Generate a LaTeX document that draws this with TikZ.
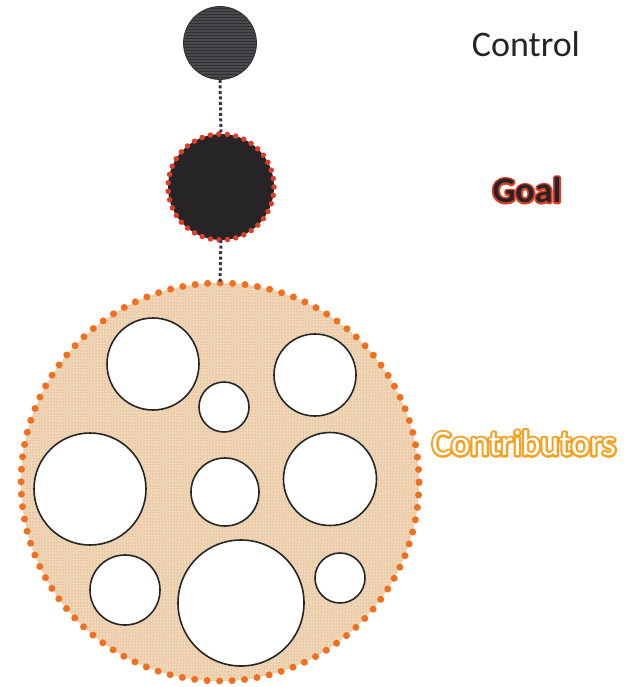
\documentclass[tikz,border=0pt]{standalone}
\usepackage{fontspec}
\setmainfont{Carlito}
\usetikzlibrary{patterns}
\definecolor{ctrlgray}{RGB}{74,74,78}
\definecolor{ctrlline}{RGB}{48,48,50}
\definecolor{goalfill}{RGB}{38,36,38}
\definecolor{goalred}{RGB}{222,62,40}
\definecolor{contribfill}{RGB}{240,214,178}
\definecolor{contribdot}{RGB}{195,145,150}
\definecolor{contriborange}{RGB}{240,112,34}
\definecolor{labelorange}{RGB}{246,160,30}
\definecolor{linkcol}{RGB}{50,55,75}
\newcommand{\strokeonly}[2]{\special{pdf:literal direct 1 Tr #1 w 1 j}#2\special{pdf:literal direct 0 Tr}}
\tikzset{
  hole/.style={circle, draw=black!85, line width=1.6pt, fill=white, inner sep=0pt},
  link/.style={draw=linkcol, line width=3pt, dash pattern=on 3pt off 2.5pt},
  bigfont/.style={font=\fontsize{36}{40}\selectfont},
  boldfont/.style={font=\fontsize{36}{40}\selectfont\bfseries},
}
\begin{document}
\begin{tikzpicture}[x=1pt,y=-1pt]
\useasboundingbox (0,0) rectangle (639,687);

% Control
\node[circle, minimum size=73pt, inner sep=0pt, fill=ctrlgray, draw=ctrlline, line width=0.8pt] (ctrl) at (220,43) {};
\fill[pattern=horizontal lines, pattern color=ctrlline] (ctrl.center) circle (36pt);

% Goal
\node[circle, minimum size=106pt, inner sep=0pt, fill=goalfill] (goal) at (221,187) {};
\draw[goalred, line width=5.5pt, line cap=round, dash pattern=on 0pt off 8.54pt] (goal.center) circle (53pt);

% Contributors (big circle)
\node[circle, minimum size=398pt, inner sep=0pt, fill=contribfill] (contrib) at (220,482) {};
\fill[pattern=dots, pattern color=contribdot] (contrib.center) circle (199pt);
\draw[contriborange, line width=7pt, line cap=round, dash pattern=on 0pt off 12.5pt] (contrib.center) circle (199pt);

% Links
\draw[link] (ctrl.south) -- (goal.north);
\draw[link] (goal.south) -- (contrib.north);

% inner circles
\node[hole, minimum size=92pt] (h1) at (153,364) {};
\node[hole, minimum size=50pt] (h2) at (224,407) {};
\node[hole, minimum size=82pt] (h3) at (315,375) {};
\node[hole, minimum size=112pt] (h4) at (90,489) {};
\node[hole, minimum size=68pt] (h5) at (225,492) {};
\node[hole, minimum size=93pt] (h6) at (330,479) {};
\node[hole, minimum size=70pt] (h7) at (125,590) {};
\node[hole, minimum size=126pt] (h8) at (241,603) {};
\node[hole, minimum size=50pt] (h9) at (340,578) {};

% Labels
\node[bigfont, text=black!85] (ctrllabel) at (526,44) {Control};

\node[boldfont, text=goalred] (goalrim) at (527,190) {\strokeonly{3.6}{Goal}};
\node[boldfont, text=goalfill] (goallabel) at (goalrim.center) {Goal};

\node[bigfont, text=labelorange] (contribrim) at (524,443) {\strokeonly{4.4}{Contributors}};
\node[bigfont, text=white] (contriblabel) at (contribrim.center) {Contributors};
\end{tikzpicture}
\end{document}
